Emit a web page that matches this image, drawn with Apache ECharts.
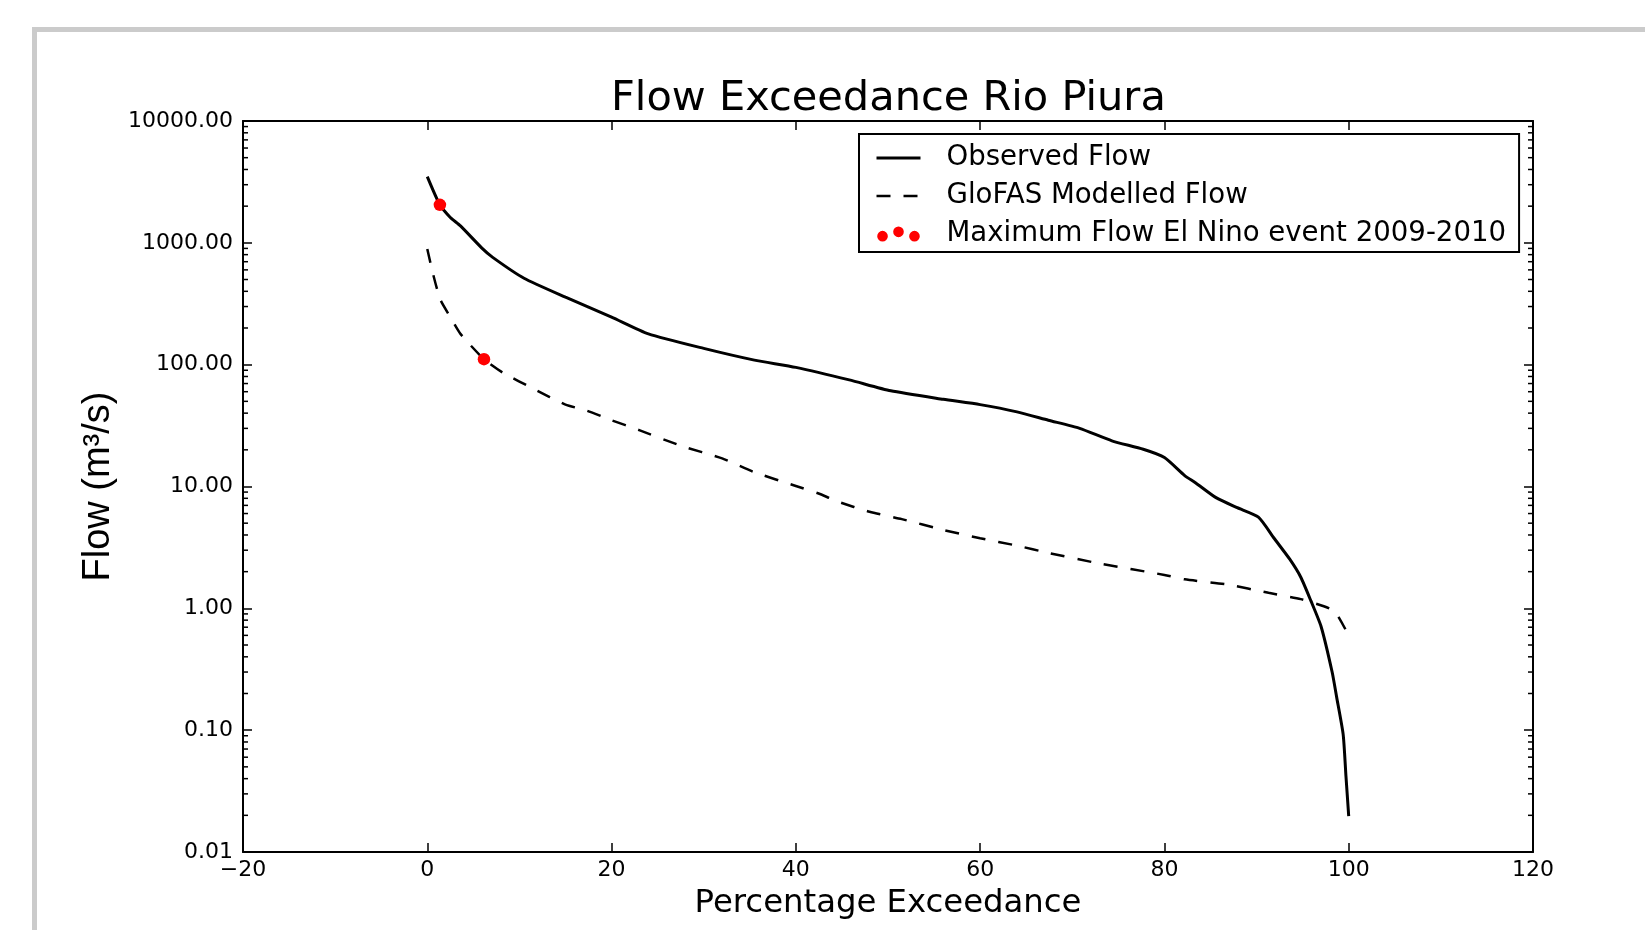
<!DOCTYPE html>
<html>
<head>
<meta charset="utf-8">
<script src="https://cdn.jsdelivr.net/npm/echarts@6/dist/echarts.min.js"></script>
<style>
  html, body { margin: 0; padding: 0; background: #fff; overflow: hidden; }
  #frame {
    position: absolute; left: 32px; top: 27px; width: 2000px; height: 2000px;
    border-left: 5px solid #cbcbcb; border-top: 5px solid #cbcbcb;
  }
  #chart { position: absolute; left: 0; top: 0; width: 1645px; height: 930px; }
</style>
</head>
<body>
<div id="frame"></div>
<div id="chart"></div>
<script>
// percentage exceedance (%) / flow (m3/s)
const observedX = [0, 1.37, 2.5, 3.6, 5.9, 7.1, 10.5, 15, 20, 24, 30, 35.5, 40, 45.8, 50.3, 56, 60, 64, 67.4, 70.8, 74.3, 77.7, 80, 82.2, 83.4, 85.6, 87.9, 90.2, 91.9, 93.6, 94.8, 95.9, 97, 98.2, 98.7, 99.4, 99.7, 100];
const observedY = [3500, 2050, 1615, 1377, 910, 760, 512, 358, 246, 179, 136, 109, 95, 75, 61, 52, 47, 41, 35, 30, 23.7, 20.2, 17.3, 12.3, 10.7, 8.1, 6.7, 5.6, 3.76, 2.53, 1.8, 1.15, 0.71, 0.3, 0.185, 0.092, 0.042, 0.0197];

const modelledX = [0, 0.6, 1.4, 2.5, 3.6, 6.15, 8.2, 11.6, 15, 17.3, 20, 23, 27.6, 32, 35.5, 40, 42.4, 44.6, 48, 51.5, 56, 60, 64, 67.4, 73, 80, 82.2, 86.8, 91.3, 94.8, 97.3, 98.5, 99.7];
const modelledY = [890, 565, 344, 246, 179, 111, 86, 63, 47, 42, 35, 29, 21.5, 17, 13.1, 10.1, 8.8, 7.5, 6.2, 5.4, 4.4, 3.76, 3.27, 2.85, 2.33, 1.88, 1.73, 1.57, 1.34, 1.19, 1.04, 0.94, 0.66];

const elNinoX = [1.37, 6.15];
const elNinoY = [2050, 111];

const xTicks = [-20, 0, 20, 40, 60, 80, 100, 120];
const yDecades = [0.01, 0.1, 1, 10, 100, 1000, 10000];

const zip = (xs, ys) => xs.map((x, i) => [x, ys[i]]);

// minor log ticks (2..9 x each decade), drawn on both sides of the frame
const minorTicks = [];
yDecades.slice(0, -1).forEach(d => {
  for (let k = 2; k <= 9; k++) minorTicks.push([xTicks[0], d * k]);
});

const font = 'DejaVu Sans';
const chart = echarts.init(document.getElementById('chart'));

const tickStyle = { inside: true, length: 9, lineStyle: { color: '#000', width: 1.5 } };
const axisLine = { show: true, onZero: false, lineStyle: { color: '#000', width: 2 } };

chart.setOption({
  animation: false,
  title: {
    text: 'Flow Exceedance Rio Piura',
    left: 611,
    top: 78,
    padding: 0,
    textStyle: { fontFamily: font, fontSize: 41.5, fontWeight: 'normal', color: '#000' }
  },
  grid: { left: 243, right: 112, top: 121, bottom: 78 },
  legend: {
    orient: 'vertical',
    left: 859,
    top: 134,
    padding: [10, 13, 4, 16],
    itemGap: 10,
    itemWidth: 44,
    itemHeight: 15,
    borderColor: '#000',
    borderWidth: 2,
    borderRadius: 0,
    backgroundColor: '#fff',
    selectedMode: false,
    itemStyle: { opacity: 0 },
    textStyle: { fontFamily: font, fontSize: 27.6, color: '#000', lineHeight: 28, padding: [0, 0, 0, 21] },
    data: [
      { name: 'Observed Flow', lineStyle: { width: 3 } },
      { name: 'GloFAS Modelled Flow', lineStyle: { width: 2.5 } },
      {
        name: 'Maximum Flow El Nino event 2009-2010',
        icon: 'path://M0,10a5.5,5.5 0 1,0 11,0a5.5,5.5 0 1,0 -11,0ZM16.5,5.5a5.5,5.5 0 1,0 11,0a5.5,5.5 0 1,0 -11,0ZM33,10a5.5,5.5 0 1,0 11,0a5.5,5.5 0 1,0 -11,0Z',
        itemStyle: { opacity: 1, color: '#ff0000' }
      }
    ]
  },
  xAxis: [
    {
      type: 'value', min: -20, max: 120, interval: 20,
      name: 'Percentage Exceedance', nameLocation: 'middle', nameGap: 36,
      nameTextStyle: { fontFamily: font, fontSize: 32.3, color: '#000' },
      axisLine, axisTick: tickStyle, splitLine: { show: false },
      axisLabel: {
        fontFamily: font, fontSize: 22, color: '#000', margin: 7,
        formatter: v => (v < 0 ? '\u2212' + Math.abs(v) : String(v))
      }
    },
    {
      type: 'value', position: 'top', min: -20, max: 120, interval: 20,
      axisLine, axisTick: tickStyle, axisLabel: { show: false }, splitLine: { show: false }
    }
  ],
  yAxis: [
    {
      type: 'log', logBase: 10, min: 0.01, max: 10000,
      name: 'Flow (m\u00b3/s)', nameLocation: 'middle', nameGap: 117, nameRotate: 90,
      nameTextStyle: { fontFamily: 'Liberation Sans', fontSize: 38, color: '#000' },
      axisLine, axisTick: tickStyle, splitLine: { show: false },
      axisLabel: {
        fontFamily: font, fontSize: 22, color: '#000', margin: 10,
        formatter: v => Number(v).toFixed(2)
      }
    },
    {
      type: 'log', logBase: 10, min: 0.01, max: 10000, position: 'right',
      axisLine, axisTick: tickStyle, axisLabel: { show: false }, splitLine: { show: false }
    }
  ],
  series: [
    {
      name: 'Observed Flow',
      type: 'line',
      data: zip(observedX, observedY),
      symbol: 'none',
      smooth: 0.2,
      lineStyle: { color: '#000', width: 3 },
      itemStyle: { color: '#000' },
      z: 3
    },
    {
      name: 'GloFAS Modelled Flow',
      type: 'line',
      data: zip(modelledX, modelledY),
      symbol: 'none',
      smooth: 0.2,
      lineStyle: { color: '#000', width: 2.5, type: [14, 13] },
      itemStyle: { color: '#000' },
      z: 3
    },
    {
      name: 'Maximum Flow El Nino event 2009-2010',
      type: 'scatter',
      data: zip(elNinoX, elNinoY),
      symbolSize: 12.5,
      itemStyle: { color: '#ff0000', opacity: 1 },
      z: 4
    },
    {
      type: 'custom',
      silent: true,
      clip: false,
      data: minorTicks,
      renderItem: (params, api) => {
        const y = api.coord([api.value(0), api.value(1)])[1];
        const cs = params.coordSys;
        const st = { stroke: '#000', lineWidth: 1.5 };
        return {
          type: 'group',
          children: [
            { type: 'line', shape: { x1: cs.x, y1: y, x2: cs.x + 5, y2: y }, style: st },
            { type: 'line', shape: { x1: cs.x + cs.width - 5, y1: y, x2: cs.x + cs.width, y2: y }, style: st }
          ]
        };
      }
    }
  ]
});
</script>
</body>
</html>
